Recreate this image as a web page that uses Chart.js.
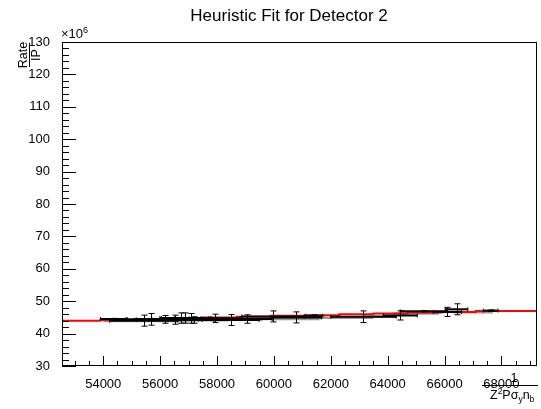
<!DOCTYPE html>
<html>
<head>
<meta charset="UTF-8">
<title>Heuristic Fit for Detector 2</title>
<script src="https://cdn.jsdelivr.net/npm/chart.js"></script>
<style>
  body { margin: 0; background: #fff; }
  #wrap { width: 541px; height: 409px; position: relative; }
</style>
</head>
<body>
<div id="wrap"><canvas id="fitChart"></canvas></div>
<script>
// rate / IP in units of 1e6, against Z^2 P sigma_y n_b
const ptX    = [54370, 55420, 55680, 56160, 56540, 56740, 56890, 57100, 57190, 57920, 58480, 59040, 59970, 60770, 61420, 63150, 64440, 65270, 66100, 66420, 67620];
const ptY    = [44.5, 44.0, 44.4, 44.4, 44.3, 44.8, 44.8, 44.7, 44.2, 44.7, 44.2, 44.5, 45.3, 45.0, 45.5, 45.2, 45.6, 46.9, 46.7, 47.5, 47.1];
const ptXErr = [470, 1200, 900, 1000, 800, 700, 900, 600, 700, 900, 1000, 900, 1100, 900, 300, 1150, 600, 830, 500, 400, 260];
const ptYErr = [0.2, 1.7, 1.8, 1.2, 1.4, 1.6, 1.6, 1.5, 1.0, 1.3, 1.7, 1.3, 1.7, 1.7, 0.3, 1.8, 1.4, 0.2, 1.4, 1.7, 0.2];

// second (grey) set, drawn underneath
const grX    = [55500, 57000, 58800, 60400, 62300, 63700, 65000, 67000];
const grY    = [43.9, 44.1, 44.3, 44.5, 44.9, 45.3, 46.2, 46.6];
const grXErr = [1500, 1400, 800, 1200, 1200, 600, 800, 700];

// fitted function, drawn as steps
const fitX = [52550, 53900, 55100, 56300, 57500, 58700, 59900, 61100, 62300, 63500, 64700, 65900, 67100, 68300, 69250];
const fitY = [43.7, 44.0, 44.2, 44.5, 44.7, 45.0, 45.2, 45.5, 45.7, 46.0, 46.2, 46.5, 46.7, 47.0, 47.0];

const xTicks = [54000, 56000, 58000, 60000, 62000, 64000, 66000, 68000];
const yTicks = [30, 40, 50, 60, 70, 80, 90, 100, 110, 120, 130];

const FONT = '"Liberation Sans", Arial, Helvetica, sans-serif';

function drawBars(chart, idx, color, width, ends) {
  const ds = chart.data.datasets[idx];
  const xs = chart.scales.x, ys = chart.scales.y;
  const ctx = chart.ctx;
  const a = chart.chartArea;
  ctx.save();
  ctx.beginPath();
  ctx.rect(a.left, a.top, a.right - a.left, a.bottom - a.top);
  ctx.clip();
  ctx.strokeStyle = color;
  ds.data.forEach(p => {
    const py = ys.getPixelForValue(p.y);
    const x1 = xs.getPixelForValue(p.x - p.xErr);
    const x2 = xs.getPixelForValue(p.x + p.xErr);
    ctx.lineWidth = width;
    ctx.beginPath();
    ctx.moveTo(x1, py);
    ctx.lineTo(x2, py);
    ctx.stroke();
    if (ends) {
      ctx.lineWidth = 1;
      ctx.beginPath();
      ctx.moveTo(x1, py - 2); ctx.lineTo(x1, py + 2);
      ctx.moveTo(x2, py - 2); ctx.lineTo(x2, py + 2);
      ctx.stroke();
    }
    if (p.yErr) {
      const px = Math.round(xs.getPixelForValue(p.x)) + 0.5;
      const y1 = ys.getPixelForValue(p.y - p.yErr);
      const y2 = ys.getPixelForValue(p.y + p.yErr);
      ctx.lineWidth = 1;
      ctx.beginPath();
      ctx.moveTo(px, y1); ctx.lineTo(px, y2);
      ctx.moveTo(px - 3, y1); ctx.lineTo(px + 3, y1);
      ctx.moveTo(px - 3, y2); ctx.lineTo(px + 3, y2);
      ctx.stroke();
    }
  });
  ctx.restore();
}

const rootFrame = {
  id: 'rootFrame',
  beforeDatasetsDraw(chart) {
    drawBars(chart, 0, '#9a9a9a', 2.5, false);
  },
  afterDatasetsDraw(chart) {
    drawBars(chart, 2, '#000', 2, true);
  },
  afterDraw(chart) {
    const ctx = chart.ctx;
    const a = chart.chartArea;
    const xs = chart.scales.x, ys = chart.scales.y;
    ctx.save();
    ctx.strokeStyle = '#000';
    ctx.lineWidth = 1;
    ctx.strokeRect(a.left + 0.5, a.top + 0.5, a.right - a.left - 1, a.bottom - a.top - 1);

    // inward ticks
    ctx.beginPath();
    for (let v = 30; v <= 130; v += 2) {
      const y = Math.round(ys.getPixelForValue(v)) + 0.5;
      const len = v % 10 === 0 ? 14 : 7;
      ctx.moveTo(a.left, y); ctx.lineTo(a.left + len, y);
    }
    for (let v = 53000; v <= 69000; v += 500) {
      const x = Math.round(xs.getPixelForValue(v)) + 0.5;
      const len = v % 2000 === 0 ? 10 : 5;
      ctx.moveTo(x, a.bottom); ctx.lineTo(x, a.bottom - len);
    }
    ctx.stroke();

    ctx.fillStyle = '#000';
    // title
    ctx.font = '17px ' + FONT;
    ctx.textAlign = 'center';
    ctx.textBaseline = 'alphabetic';
    ctx.fillText('Heuristic Fit for Detector 2', 289, 21);

    // exponent
    ctx.textAlign = 'left';
    ctx.font = '13px ' + FONT;
    ctx.fillText('\u00d710', a.left - 1, 38);
    ctx.font = '9px ' + FONT;
    ctx.fillText('6', a.left + 21, 33);

    // y title: Rate / IP
    ctx.save();
    ctx.translate(29, 55);
    ctx.rotate(-Math.PI / 2);
    ctx.font = '12.5px ' + FONT;
    ctx.textAlign = 'center';
    ctx.fillText('Rate', 0, -2);
    ctx.fillText('IP', 0, 11);
    ctx.beginPath();
    ctx.moveTo(-12, 0.5); ctx.lineTo(12, 0.5);
    ctx.stroke();
    ctx.restore();

    // x title: 1 / (Z^2 P sigma_y n_b)
    ctx.font = '12.5px ' + FONT;
    ctx.textAlign = 'center';
    ctx.fillText('1', 514, 382);
    ctx.beginPath();
    ctx.moveTo(482, 385.5); ctx.lineTo(538, 385.5);
    ctx.stroke();
    ctx.textAlign = 'left';
    let cx = 490;
    const part = (t, size, dy) => {
      ctx.font = size + 'px ' + FONT;
      ctx.fillText(t, cx, 399 + dy);
      cx += ctx.measureText(t).width;
    };
    part('Z', 12.5, 0);
    part('2', 8.5, -5);
    part('P', 12.5, 0);
    part('\u03c3', 12.5, 0);
    part('y', 8.5, 3);
    part('n', 12.5, 0);
    part('b', 8.5, 3);
    ctx.restore();
  }
};

new Chart(document.getElementById('fitChart'), {
  type: 'scatter',
  data: {
    datasets: [
      {
        label: 'grey',
        data: grX.map((x, i) => ({ x: x, y: grY[i], xErr: grXErr[i], yErr: 0 })),
        pointRadius: 0,
        showLine: false
      },
      {
        label: 'fit',
        data: fitX.map((x, i) => ({ x: x, y: fitY[i] })),
        showLine: true,
        stepped: 'after',
        borderColor: '#ff0000',
        borderWidth: 2,
        pointRadius: 0
      },
      {
        label: 'data',
        data: ptX.map((x, i) => ({ x: x, y: ptY[i], xErr: ptXErr[i], yErr: ptYErr[i] })),
        pointRadius: 0,
        showLine: false
      }
    ]
  },
  options: {
    responsive: true,
    maintainAspectRatio: false,
    animation: false,
    layout: { padding: { top: 42, right: 4, left: 0, bottom: 0 } },
    plugins: { legend: { display: false }, tooltip: { enabled: false }, title: { display: false } },
    scales: {
      x: {
        type: 'linear',
        min: 52550,
        max: 69250,
        grid: { display: false },
        border: { display: false },
        afterBuildTicks: s => { s.ticks = xTicks.map(v => ({ value: v })); },
        afterFit: s => { s.height = 43; },
        ticks: {
          color: '#000',
          padding: 3,
          maxRotation: 0,
          font: { family: FONT, size: 13 },
          callback: v => String(v)
        }
      },
      y: {
        type: 'linear',
        min: 30,
        max: 130,
        grid: { display: false },
        border: { display: false },
        afterBuildTicks: s => { s.ticks = yTicks.map(v => ({ value: v })); },
        afterFit: s => { s.width = 62; },
        ticks: {
          color: '#000',
          padding: 4,
          font: { family: FONT, size: 13 },
          callback: v => String(v)
        }
      }
    }
  },
  plugins: [rootFrame]
});
</script>
</body>
</html>
